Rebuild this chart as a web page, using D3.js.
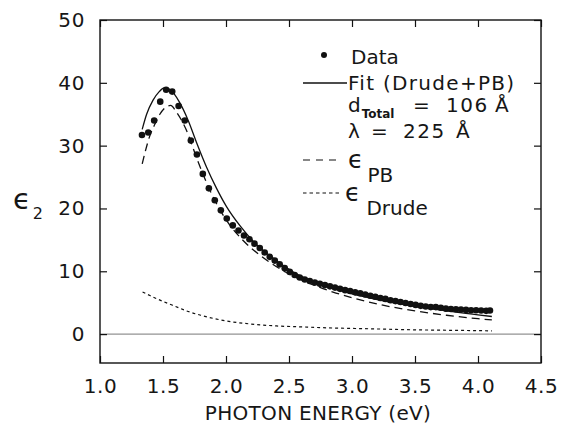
<!DOCTYPE html>
<html>
<head>
<meta charset="utf-8">
<script src="https://cdn.jsdelivr.net/npm/d3@7"></script>
<style>
  body { margin: 0; background: #fff; }
  svg text { font-family: "DejaVu Sans", sans-serif; fill: #161616; }
</style>
</head>
<body>
<svg id="chart" width="566" height="430"></svg>
<script>
// measured eps2 (dots)
const dataEnergy = [1.333, 1.383, 1.430, 1.478, 1.525, 1.573, 1.624, 1.673, 1.721, 1.769,
  1.816, 1.864, 1.911, 1.959, 2.006, 2.054, 2.099, 2.143, 2.186, 2.226,
  2.268, 2.307, 2.347, 2.387, 2.426, 2.466, 2.506, 2.545, 2.585, 2.625,
  2.665, 2.705, 2.745, 2.785, 2.825, 2.865, 2.905, 2.945, 2.985, 3.025,
  3.065, 3.105, 3.145, 3.185, 3.225, 3.265, 3.305, 3.345, 3.385, 3.425,
  3.465, 3.505, 3.545, 3.585, 3.625, 3.665, 3.705, 3.745, 3.785, 3.825,
  3.865, 3.905, 3.945, 3.985, 4.025, 4.065, 4.095];
const dataEps2 = [31.7, 32.1, 34.0, 37.0, 38.9, 38.6, 36.3, 34.0, 30.8, 28.6,
  25.5, 23.2, 21.3, 19.7, 18.4, 17.3, 16.5, 15.7, 15.1, 14.4,
  13.7, 13.0, 12.3, 11.7, 11.1, 10.5, 9.9, 9.4, 9.0, 8.7,
  8.45, 8.2, 8.0, 7.8, 7.6, 7.4, 7.2, 7.0, 6.85, 6.65,
  6.5, 6.3, 6.1, 5.95, 5.75, 5.6, 5.4, 5.25, 5.1, 4.95,
  4.8, 4.65, 4.5, 4.4, 4.3, 4.3, 4.2, 4.05, 4.0, 3.95,
  3.9, 3.85, 3.8, 3.8, 3.75, 3.7, 3.75];

// fit (Drude + PB), solid
const fitEnergy = [1.335, 1.37, 1.42, 1.47, 1.51, 1.55, 1.59, 1.634, 1.70, 1.766,
  1.845, 1.925, 2.004, 2.109, 2.215, 2.373, 2.585, 2.75, 3.0, 3.25, 3.5, 3.75, 4.0, 4.11];
const fitEps2 = [32.6, 35.0, 37.2, 38.6, 39.2, 39.0, 38.2, 36.8, 34.0, 30.5,
  26.6, 23.2, 20.3, 17.3, 14.8, 12.1, 9.3, 7.9, 6.4, 5.3, 4.4, 3.7, 3.05, 2.8];

// eps PB, long dashes
const pbEnergy = [1.335, 1.396, 1.44, 1.475, 1.528, 1.56, 1.608, 1.687, 1.766, 1.872,
  2.004, 2.136, 2.294, 2.479, 2.65, 2.849, 3.0, 3.245, 3.5, 3.75, 4.0, 4.11];
const pbEps2 = [27.1, 31.6, 33.6, 35.0, 36.2, 36.4, 35.3, 32.4, 28.1, 22.9,
  18.1, 14.9, 12.2, 9.8, 8.2, 6.7, 5.8, 4.6, 3.7, 3.0, 2.45, 2.25];

// eps Drude, short dashes
const drudeEnergy = [1.338, 1.4, 1.5, 1.6, 1.7, 1.8, 1.9, 2.0, 2.2, 2.4,
  2.6, 2.8, 3.0, 3.2, 3.4, 3.6, 3.8, 4.0, 4.11];
const drudeEps2 = [6.7, 6.1, 5.2, 4.4, 3.6, 3.0, 2.5, 2.1, 1.6, 1.3,
  1.15, 1.0, 0.9, 0.82, 0.72, 0.65, 0.6, 0.55, 0.52];

const xTicks = [1.0, 1.5, 2.0, 2.5, 3.0, 3.5, 4.0, 4.5];
const yTicks = [0, 10, 20, 30, 40, 50];

const xTitle = "PHOTON ENERGY (eV)";

const svg = d3.select("#chart");

const x = d3.scaleLinear().domain([1.0, 4.5]).range([100, 541]);
const y = d3.scaleLinear().domain([-4.6, 50]).range([363, 20]);

const pts = (ex, ey) => ex.map((e, i) => [e, ey[i]]);

const line = d3.line()
  .x(d => x(d[0]))
  .y(d => y(d[1]))
  .curve(d3.curveMonotoneX);

// zero line
svg.append("line")
  .attr("x1", x(1.0)).attr("x2", x(4.5))
  .attr("y1", y(0)).attr("y2", y(0))
  .attr("stroke", "#777").attr("stroke-width", 1);

// axes, ticks pointing inward
const bottom = svg.append("g")
  .attr("transform", `translate(0,${y.range()[0]})`)
  .call(d3.axisBottom(x).tickValues(xTicks).tickFormat(d3.format(".1f"))
    .tickSizeInner(-7).tickSizeOuter(0).tickPadding(16));
svg.append("g")
  .attr("transform", `translate(0,${y.range()[1]})`)
  .call(d3.axisTop(x).tickValues(xTicks).tickFormat("")
    .tickSizeInner(-7).tickSizeOuter(0));
const left = svg.append("g")
  .attr("transform", `translate(${x.range()[0]},0)`)
  .call(d3.axisLeft(y).tickValues(yTicks)
    .tickSizeInner(-7).tickSizeOuter(0).tickPadding(15));
svg.append("g")
  .attr("transform", `translate(${x.range()[1]},0)`)
  .call(d3.axisRight(y).tickValues(yTicks).tickFormat("")
    .tickSizeInner(-7).tickSizeOuter(0));

svg.selectAll(".domain").remove();
svg.selectAll(".tick line").attr("stroke", "#111").attr("stroke-width", 1.2);
bottom.selectAll("text").attr("font-size", 20).attr("font-family", null).attr("fill", null)
  .attr("letter-spacing", 0.6);
left.selectAll("text").attr("font-size", 20).attr("font-family", null).attr("fill", null)
  .attr("letter-spacing", 0.6);

// frame
svg.append("rect")
  .attr("x", x.range()[0]).attr("y", y.range()[1])
  .attr("width", x.range()[1] - x.range()[0])
  .attr("height", y.range()[0] - y.range()[1])
  .attr("fill", "none").attr("stroke", "#111").attr("stroke-width", 1.4);

// curves
svg.append("path").datum(pts(drudeEnergy, drudeEps2))
  .attr("d", line).attr("fill", "none")
  .attr("stroke", "#111").attr("stroke-width", 1.2).attr("stroke-dasharray", "3,3");
svg.append("path").datum(pts(pbEnergy, pbEps2))
  .attr("d", line).attr("fill", "none")
  .attr("stroke", "#111").attr("stroke-width", 1.3).attr("stroke-dasharray", "8,5");
svg.append("path").datum(pts(fitEnergy, fitEps2))
  .attr("d", line).attr("fill", "none")
  .attr("stroke", "#111").attr("stroke-width", 1.3);

svg.append("g").selectAll("circle")
  .data(pts(dataEnergy, dataEps2))
  .enter()
  .append("circle")
  .attr("cx", d => x(d[0]))
  .attr("cy", d => y(d[1]))
  .attr("r", 3.3)
  .attr("fill", "#111");

// axis titles
svg.append("text")
  .attr("x", 318).attr("y", 413).attr("dy", "0.36em")
  .attr("text-anchor", "middle").attr("font-size", 20).attr("letter-spacing", 0.3)
  .text(xTitle);

const yTitle = svg.append("text").attr("x", 13).attr("y", 199).attr("dy", "0.36em").attr("font-size", 29);
yTitle.append("tspan").text("ϵ");
yTitle.append("tspan").attr("font-size", 16).attr("dy", 10).attr("dx", 2).text("2");

// legend
const lg = svg.append("g");
lg.append("circle").attr("cx", 324).attr("cy", 55).attr("r", 3).attr("fill", "#111");
lg.append("text").attr("x", 351).attr("y", 57).attr("dy", "0.36em").attr("font-size", 20).text("Data");

lg.append("line").attr("x1", 303).attr("x2", 347).attr("y1", 83).attr("y2", 83)
  .attr("stroke", "#111").attr("stroke-width", 1.3);
lg.append("text").attr("x", 348).attr("y", 83).attr("dy", "0.36em").attr("font-size", 20)
  .attr("letter-spacing", 1.3).text("Fit (Drude+PB)");

const dt = lg.append("text").attr("x", 348).attr("y", 105).attr("dy", "0.36em").attr("font-size", 20);
dt.append("tspan").text("d");
dt.append("tspan").attr("font-size", 12).attr("font-weight", "bold").attr("dy", 6).attr("dx", 1).text("Total");
dt.append("tspan").attr("x", 413).attr("dy", -6).text("=");
dt.append("tspan").attr("x", 446).attr("letter-spacing", 1.5).text("106");
dt.append("tspan").attr("x", 495).text("Å");

const lt = lg.append("text").attr("x", 348).attr("y", 131).attr("dy", "0.36em").attr("font-size", 20);
lt.append("tspan").text("λ");
lt.append("tspan").attr("x", 371).text("=");
lt.append("tspan").attr("x", 403).attr("letter-spacing", 1.5).text("225");
lt.append("tspan").attr("x", 456).text("Å");

lg.append("line").attr("x1", 303).attr("x2", 341).attr("y1", 160).attr("y2", 160)
  .attr("stroke", "#111").attr("stroke-width", 1.2).attr("stroke-dasharray", "7,6");
const pb = lg.append("text").attr("x", 348).attr("y", 159).attr("dy", "0.36em").attr("font-size", 25);
pb.append("tspan").text("ϵ");
pb.append("tspan").attr("font-size", 20).attr("dy", 14).attr("dx", 4).text("PB");

lg.append("line").attr("x1", 303).attr("x2", 342).attr("y1", 193).attr("y2", 193)
  .attr("stroke", "#111").attr("stroke-width", 1.1).attr("stroke-dasharray", "3.5,3");
const dr = lg.append("text").attr("x", 345).attr("y", 192).attr("dy", "0.36em").attr("font-size", 25);
dr.append("tspan").text("ϵ");
dr.append("tspan").attr("font-size", 20).attr("dy", 14).attr("dx", 6).text("Drude");
</script>
</body>
</html>
